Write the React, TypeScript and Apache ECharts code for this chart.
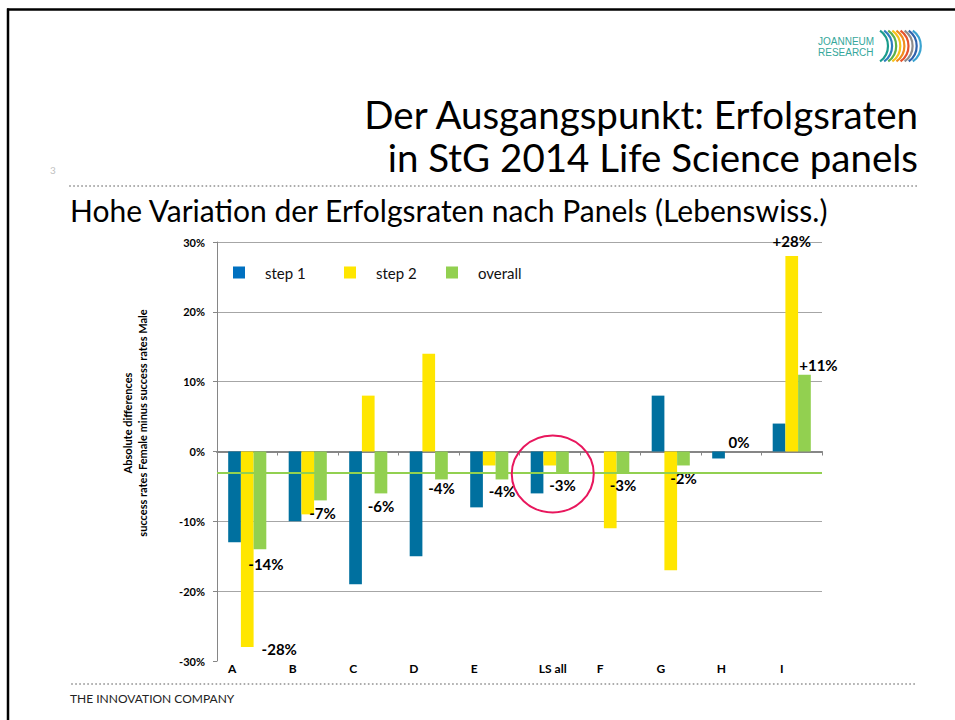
import React, { useEffect, useRef } from "react";
import * as echarts from "echarts";

// ---- data ----
const categories = ["A", "B", "C", "D", "E", "LS all", "F", "G", "H", "I"];
const step1 = [-13, -10, -19, -15, -8, -6, 0, 8, -1, 4];
const step2 = [-28, -9, 8, 14, -2, -2, -11, -17, 0, 28];
const overall = [-14, -7, -6, -4, -4, -3, -3, -2, 0, 11];
const seriesNames = ["step 1", "step 2", "overall"];
const yMin = -30;
const yMax = 30;
const yInterval = 10;
const referenceCategory = "LS all";

// ---- styling ----
const FONT = "Lato, 'Noto Sans', sans-serif";
const C_STEP1 = "#00709f";
const C_STEP2 = "#ffe600";
const C_OVERALL = "#92d050";
const LEGEND_COLORS = ["#0070c0", "#ffe600", "#92d050"];

type Tweak = { position?: string; offset?: number[] };
const overallLabelTweaks: Record<string, Tweak> = {
  A: { position: "bottom", offset: [6, 2] },
  B: { offset: [2, 0] },
  D: { offset: [0, -4] },
  E: { offset: [0, -1] },
  H: { position: "top", offset: [-5, 3] },
  I: { position: "top", offset: [14, 3] },
};
const step2LabelTweaks: Record<string, Tweak> = {
  A: { position: "bottom", offset: [32, -11] },
  I: { position: "top", offset: [0, -2] },
};

const fmt = (v: number) => (v > 0 ? `+${v}%` : `${v}%`);
const labelText = {
  fontFamily: FONT,
  fontWeight: "bold" as const,
  fontSize: 15,
  color: "#000",
};

function App() {
  const ref = useRef<HTMLDivElement>(null);

  useEffect(() => {
    if (!ref.current) return;
    const chart = echarts.init(ref.current, null, { renderer: "svg" });

    const overallData = overall.map((v, i) => {
      const t = overallLabelTweaks[categories[i]] || {};
      return {
        value: v,
        label: {
          show: true,
          formatter: fmt(v),
          position: t.position || (v < 0 ? "bottom" : "top"),
          offset: t.offset || [0, 0],
          distance: 5,
          ...labelText,
        },
      };
    });
    const step2Data = step2.map((v, i) => {
      const t = step2LabelTweaks[categories[i]];
      if (!t) return { value: v };
      return {
        value: v,
        label: {
          show: true,
          formatter: fmt(v),
          position: t.position,
          offset: t.offset,
          distance: 5,
          ...labelText,
        },
      };
    });

    const legendIcon = "path://M0,0H12V12H0Z M26.9,0H27V0.1H26.9Z";
    const legendLefts = [233, 344, 446];

    const dotted = (id: string, x1: number, x2: number, y: number) => ({
      id,
      type: "line",
      shape: { x1, y1: y, x2, y2: y },
      style: { stroke: "#a6a6a6", lineWidth: 2, lineDash: [0.01, 4], lineCap: "round" },
      silent: true,
    });

    const arcColors = ["#1a9c8c", "#2e7dbf", "#5cb04a", "#f5c31c", "#f08c1e", "#e5532d", "#8c8c8c", "#2f63ad", "#3aa3d0"];
    const arcs = arcColors.map((c, i) => ({
      id: "arc" + i,
      type: "arc",
      shape: { cx: 869 + i * 4.1, cy: 46, r: 19, startAngle: -0.95, endAngle: 0.95, clockwise: true },
      style: { stroke: c, lineWidth: 2.2, fill: "none" },
      silent: true,
    }));

    const option: any = {
      animation: false,
      backgroundColor: "#ffffff",
      grid: { left: 217, right: 133, top: 242, bottom: 59, containLabel: false },
      legend: seriesNames.map((n, i) => ({
        show: true,
        left: legendLefts[i],
        top: 265,
        itemWidth: 27,
        itemHeight: 12,
        icon: legendIcon,
        padding: 0,
        selectedMode: false,
        data: [{ name: n, itemStyle: { color: LEGEND_COLORS[i] } }],
        textStyle: { fontFamily: FONT, fontSize: 15, color: "#111" },
      })),
      xAxis: [
        {
          type: "category",
          data: categories,
          position: "bottom",
          axisLine: { show: false, onZero: false },
          axisTick: { show: false },
          splitLine: { show: false },
          axisLabel: {
            margin: 1,
            interval: 0,
            formatter: (v: string, i: number) =>
              v === referenceCategory ? `{m|${v}}` : i < 5 ? `{l|${v}}` : `{r|${v}}`,
            rich: {
              l: { fontFamily: FONT, fontWeight: "bold", fontSize: 12, color: "#000", padding: [0, 30, 0, 0] },
              m: { fontFamily: FONT, fontWeight: "bold", fontSize: 12, color: "#000", padding: [0, 0, 0, 6] },
              r: { fontFamily: FONT, fontWeight: "bold", fontSize: 12, color: "#000", padding: [0, 20, 0, 0] },
            },
          },
        },
        {
          type: "category",
          data: categories,
          position: "bottom",
          axisLine: { show: true, onZero: true, lineStyle: { color: "#868686", width: 2 } },
          axisTick: { show: true, length: 4, lineStyle: { color: "#868686", width: 1 } },
          axisLabel: { show: false },
          splitLine: { show: false },
        },
      ],
      yAxis: {
        type: "value",
        min: yMin,
        max: yMax,
        interval: yInterval,
        axisLine: { show: true, lineStyle: { color: "#868686", width: 1 } },
        axisTick: { show: true, length: 4, lineStyle: { color: "#868686" } },
        axisLabel: {
          formatter: "{value}%",
          margin: 12,
          fontFamily: FONT,
          fontWeight: "bold",
          fontSize: 11,
          color: "#000",
        },
        splitLine: {
          show: true,
          lineStyle: {
            color: ["rgba(0,0,0,0)", "#a6a6a6", "#a6a6a6", "#a6a6a6", "#a6a6a6", "#a6a6a6", "#a6a6a6"],
            width: 1,
          },
        },
      },
      series: [
        {
          name: seriesNames[0],
          type: "bar",
          data: step1,
          itemStyle: { color: C_STEP1 },
          barGap: "0%",
          barCategoryGap: "37%",
        },
        {
          name: seriesNames[1],
          type: "bar",
          data: step2Data,
          itemStyle: { color: C_STEP2 },
          barGap: "0%",
          barCategoryGap: "37%",
        },
        {
          name: seriesNames[2],
          type: "bar",
          data: overallData,
          itemStyle: { color: C_OVERALL },
          barGap: "0%",
          barCategoryGap: "37%",
          markLine: {
            silent: true,
            symbol: ["none", "none"],
            label: { show: false },
            lineStyle: { color: C_OVERALL, width: 2, type: "solid" },
            data: [{ yAxis: overall[categories.indexOf(referenceCategory)] }],
          },
        },
      ],
      graphic: [
        { id: "bTop", type: "line", shape: { x1: 7, y1: 9.5, x2: 955, y2: 9.5 }, style: { stroke: "#000", lineWidth: 2.5 }, silent: true },
        { id: "bLeft", type: "line", shape: { x1: 8, y1: 8.5, x2: 8, y2: 720 }, style: { stroke: "#000", lineWidth: 2.5 }, silent: true },
        {
          id: "logo1", type: "text", x: 818, y: 41,
          style: { text: "JOANNEUM", fill: "#35a79b", fontFamily: "'Liberation Sans', Arial, sans-serif", fontSize: 10, align: "left", verticalAlign: "middle" },
          silent: true,
        },
        {
          id: "logo2", type: "text", x: 818, y: 52,
          style: { text: "RESEARCH", fill: "#35a79b", fontFamily: "'Liberation Sans', Arial, sans-serif", fontSize: 10, align: "left", verticalAlign: "middle" },
          silent: true,
        },
        ...arcs,
        {
          id: "title1", type: "text", x: 918, y: 114,
          style: { text: "Der Ausgangspunkt: Erfolgsraten", fill: "#000", fontFamily: FONT, fontSize: 38.5, align: "right", verticalAlign: "middle" },
          silent: true,
        },
        {
          id: "title2", type: "text", x: 918, y: 157,
          style: { text: "in StG 2014 Life Science panels", fill: "#000", fontFamily: FONT, fontSize: 38.5, align: "right", verticalAlign: "middle" },
          silent: true,
        },
        {
          id: "pageNo", type: "text", x: 50, y: 170,
          style: { text: "3", fill: "#bfbfbf", fontFamily: FONT, fontSize: 10, align: "left", verticalAlign: "middle" },
          silent: true,
        },
        dotted("dotTop", 70, 918, 186),
        {
          id: "subtitle", type: "text", x: 70, y: 210,
          style: { text: "Hohe Variation der Erfolgsraten nach Panels (Lebenswiss.)", fill: "#000", fontFamily: FONT, fontSize: 30, align: "left", verticalAlign: "middle" },
          silent: true,
        },
        {
          id: "yName", type: "text", x: 135, y: 423, rotation: Math.PI / 2,
          style: {
            text: "Absolute differences\nsuccess rates Female minus success rates Male",
            fill: "#000", fontFamily: FONT, fontSize: 11, fontWeight: "bold", align: "center", verticalAlign: "middle", lineHeight: 15,
          },
          silent: true,
        },
        dotted("dotBottom", 72, 918, 684),
        {
          id: "footer", type: "text", x: 70, y: 698,
          style: { text: "THE INNOVATION COMPANY", fill: "#222", fontFamily: FONT, fontSize: 12, align: "left", verticalAlign: "middle" },
          silent: true,
        },
      ],
    };

    chart.setOption(option);

    const p = chart.convertToPixel({ gridIndex: 0 }, [referenceCategory, overall[categories.indexOf(referenceCategory)]]) as number[];
    if (p && isFinite(p[0]) && isFinite(p[1])) {
      chart.setOption({
        graphic: [
          {
            id: "highlight",
            type: "ellipse",
            shape: { cx: p[0] + 3, cy: p[1] + 1.5, rx: 41, ry: 38.5 },
            style: { fill: "none", stroke: "#e8175d", lineWidth: 2 },
            z: 100,
            silent: true,
          },
        ],
      });
    }

    return () => chart.dispose();
  }, []);

  return (
    <div
      ref={ref}
      style={{ position: "fixed", left: 0, top: 0, width: 955, height: 720, background: "#fff" }}
    />
  );
}

export default App;
